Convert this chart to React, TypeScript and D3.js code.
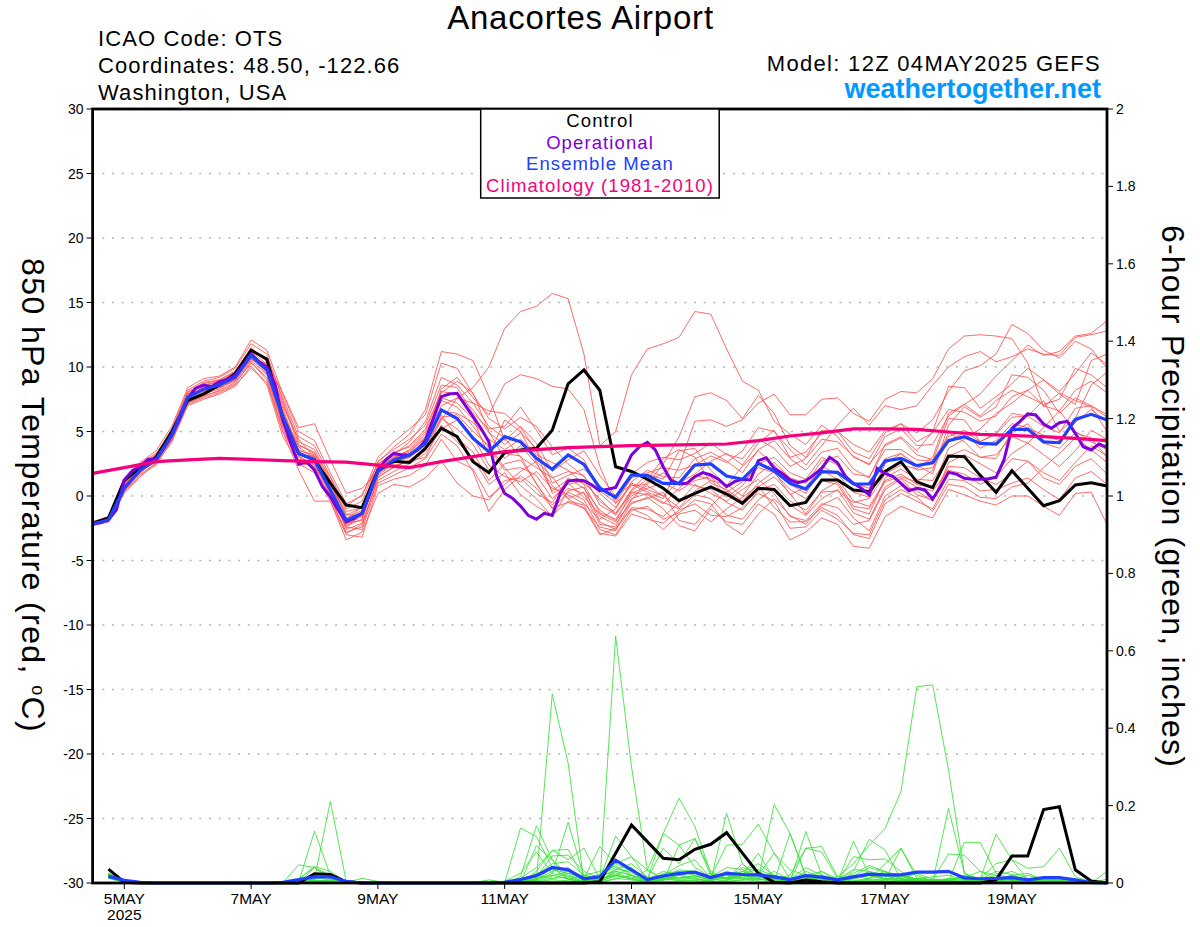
import { scaleLinear, line } from 'd3'

// 12Z 04MAY2025 GEFS plume for OTS. Steps are 6-hourly from the run time,
// the operational run is 3-hourly, climatology is read off every 12 hours.

const leftTicks = [30, 25, 20, 15, 10, 5, 0, -5, -10, -15, -20, -25, -30]
const rightTicks = [0, 0.2, 0.4, 0.6, 0.8, 1, 1.2, 1.4, 1.6, 1.8, 2]
const rightLabels = ['0', '0.2', '0.4', '0.6', '0.8', '1', '1.2', '1.4', '1.6', '1.8', '2']
const dayLabels = ['5MAY', '7MAY', '9MAY', '11MAY', '13MAY', '15MAY', '17MAY', '19MAY']
const daySteps = [2, 10, 18, 26, 34, 42, 50, 58]

const control = [-2.1,-1.7,1.2,2.2,3.0, 5.0,7.4,7.9,8.6,9.5, 11.3,10.6,6.0,3.3,2.8, 1.0,-0.7,-0.9,2.0,2.7, 2.6,3.7,5.25,4.6,2.66, 1.8,3.36,3.57,3.7,5.1, 8.7,9.77,8.2,2.27,1.9, 1.3,0.6,-0.36,0.2,0.7, 0.15,-0.57,0.6,0.5,-0.75, -0.5,1.24,1.24,0.47,0.34, 1.9,2.66,1.1,0.65,3.1, 3.05,1.6,0.28,1.96,0.6, -0.75,-0.36,0.85,1.03,0.78]
const mean = [-2.17,-1.86,0.6,2.0,2.8, 4.73,7.65,8.27,8.6,9.2, 10.9,9.77,6.15,3.3,2.8, 0.47,-1.9,-1.34,1.9,2.8, 3.18,4.08,6.67,6.0,4.47, 3.44,4.6,4.2,2.92,2.07, 3.18,2.45,0.6,-0.1,1.63, 1.58,0.98,0.98,2.4,2.48, 1.55,1.29,2.53,1.95,0.98, 0.54,1.89,1.83,0.93,0.93, 2.71,2.92,2.35,2.58,4.29, 4.6,4.08,4.03,5.17,5.17, 4.2,4.13,5.94,6.33,5.89]
const operational = [-2.1,-2.07,-1.86,-1.08,1.24,1.96,2.3,2.84,2.84,3.7,4.73,6.0,7.57,8.35,8.6,8.47,8.86,9.04,9.38,10.15,11.0,10.4,10.0,8.7,5.9,4.08,2.45,2.66,2.0,0.72,-0.05,-1.08,-2.0,-1.73,-1.34,0.2,2.0,2.8,3.3,3.18,3.18,3.57,4.34,6.0,
  7.7,7.9,7.96,7.05,6.15,5.25,4.2,1.5,0.2,-0.18,-0.78,-1.52,-1.8,-1.34,-1.5,0.2,1.16,1.24,1.19,0.85,0.41,0.52,0.67,1.89,3.18,3.82,4.16,3.57,2.27,1.19,0.93,0.98,1.5,1.81,1.63,1.29,0.72,1.11,1.29,1.24,2.74,2.97,
  2.14,1.76,1.24,1.03,1.19,1.63,2.14,3.0,2.58,1.5,0.98,0.6,0.08,2.14,1.76,1.5,0.98,0.41,0.6,0.47,-0.23,0.72,1.83,1.7,1.37,1.29,1.29,1.34,1.45,2.8,5.25,5.76,6.36,6.28,5.58,5.25,5.68,5.79,4.86,3.82,3.57,4.03,3.77]
const climatology = [1.75,2.2,2.66,2.8,2.92,2.84,2.74,2.66,2.63,2.4,2.2,2.66,3.05,3.44,3.6,3.75,3.82,3.9,3.95,3.98,4.03,4.29,4.65,4.9,5.2,5.2,5.17,4.96,4.78,4.7,4.6,4.47,4.29]

const t01 = [-2.2,-1.8,0.8,2.1,3.0, 4.9,7.8,8.4,8.7,9.5, 11.2,10.2,6.5,3.8,2.9, 1.0,-1.5,-0.9,2.0,3.0, 3.4,4.5,7.0,7.6,8.4, 10.0,13.0,14.3,14.7,15.7, 15.3,11.0,3.9,5.0,9.4, 11.4,11.8,12.3,14.3,14.1, 11.4,8.9,8.2,5.8,4.8, 4.0,5.5,4.6,3.0,2.5, 3.9,4.5,3.2,2.8,4.6, 5.1,4.2,4.9,6.4,6.2, 5.4,4.9,6.8,7.0,6.1]
const t02 = [-2.3,-1.9,0.6,1.9,2.7, 4.5,7.4,8.1,8.4,9.0, 10.8,9.6,5.9,3.1,2.4, 0.3,-2.2,-1.6,1.7,2.6, 3.0,4.2,8.3,9.2,7.6, 6.3,8.7,9.4,9.1,8.5, 8.3,6.7,2.3,-0.6,0.8, 0.9,2.5,4.6,7.7,8.0, 7.4,6.0,7.8,6.4,3.9, 3.0,5.1,5.0,3.4,2.9, 4.9,5.6,4.2,4.9,6.7, 6.5,5.8,6.2,7.7,8.2, 7.0,6.6,8.2,8.9,8.0]
const t03 = [-2.0,-1.6,1.0,2.4,3.2, 5.2,8.2,8.9,9.2,9.9, 11.8,11.0,7.4,4.2,3.6, 1.2,-1.0,-0.4,2.6,3.8, 4.8,6.7,11.2,11.0,10.5, 7.7,4.3,5.4,4.1,1.9, 2.8,3.5,1.6,0.0,0.9, 0.3,-0.2,2.3,5.8,5.9, 5.4,5.9,7.2,7.9,6.3, 6.3,7.5,7.6,6.4,5.8, 7.5,8.1,8.0,9.1,11.4, 12.4,12.5,12.4,12.2,10.3, 6.9,8.0,7.4,6.9,5.0]
const t04 = [-2.1,-1.7,1.2,2.6,3.5, 5.4,8.4,9.1,9.3,10.0, 12.1,11.3,7.9,5.0,4.3, 1.8,-0.6,0.0,3.0,4.2, 5.2,6.3,10.3,9.9,7.9, 6.0,5.2,6.1,5.4,3.8, 2.5,1.5,0.2,-0.9,1.1, 2.0,1.5,1.4,2.9,3.4, 2.7,1.8,3.6,4.3,2.9, 2.0,3.4,3.7,2.1,1.4, 4.0,4.6,3.5,5.0,8.5, 8.4,6.8,7.7,8.7,9.9, 9.0,8.1,9.5,11.1,10.2]
const t05 = [-2.3,-2.0,0.4,1.7,2.5, 4.2,7.1,7.6,8.0,8.6, 9.9,8.8,5.0,2.0,-0.4, -0.4,-3.4,-2.8,0.2,0.9, 0.7,1.4,2.7,1.0,0.0, -0.3,1.2,1.4,0.2,-0.5, 1.4,0.6,-1.1,-1.9,-0.6, -0.1,-1.0,-2.3,-2.7,-1.0, -2.0,-2.2,-0.6,-1.4,-3.4, -2.8,-1.7,-2.2,-3.9,-4.05, -1.6,-0.8,-1.3,-1.7,0.5, 0.1,-0.4,-0.7,0.0,0.0, -0.8,-1.5,0.2,0.3,-2.2]
const t06 = [-2.2,-1.8,0.7,2.2,3.0, 4.8,7.5,8.0,8.5,9.0, 10.6,10.3,8.0,5.3,5.6, 2.8,0.2,0.6,1.9,2.4, 2.6,3.5,5.9,7.6,7.2, 6.6,6.4,5.3,3.5,0.2, 0.9,1.2,-0.4,-1.3,0.2, 0.8,0.0,-0.9,0.4,1.2, 0.9,0.0,1.7,2.6,1.4, 1.0,2.7,3.1,1.7,1.5, 3.6,3.6,2.8,2.7,6.0, 5.9,4.2,4.8,6.1,6.2, 7.4,5.0,6.0,8.6,9.6]
const t07 = [-2.1,-1.9,0.9,2.3,2.9, 4.6,7.6,8.5,8.9,9.4, 10.9,10.1,6.8,3.5,3.2, 1.2,-2.3,-1.8,2.4,3.4, 3.8,5.0,8.0,8.9,8.0, 5.0,2.9,3.9,2.5,0.8, -0.2,0.3,-1.6,-2.2,-0.3, 1.1,1.8,1.0,1.7,2.7, 3.3,2.4,4.1,5.1,3.0, 3.4,4.9,5.0,4.0,3.4, 5.1,5.6,4.9,5.9,8.1, 9.7,10.1,11.0,13.3,12.6, 11.3,10.7,12.0,11.4,9.9]
const t08 = [-2.2,-1.7,0.5,1.8,2.8, 4.6,7.2,7.7,8.2,8.8, 10.3,9.2,5.3,2.4,2.5, 0.6,-2.6,-2.1,1.2,1.9, 2.5,3.3,5.2,5.9,4.6, 2.4,1.5,1.1,1.9,0.6, 0.1,-0.6,-1.8,-1.0,1.0, 0.5,0.0,1.1,0.8,0.5, -0.5,-1.1,0.4,0.9,-0.4, -1.1,0.3,0.4,-0.5,-0.2, 1.7,2.4,2.1,3.0,6.4, 7.1,7.9,9.3,10.5,11.7, 10.9,11.2,12.4,12.6,13.6]
const t09 = [-2.3,-1.8,0.9,2.0,2.6, 4.4,7.3,7.9,8.3,9.1, 10.7,9.5,5.6,3.0,2.0, -0.2,-2.8,-2.4,1.5,2.2, 2.8,3.7,6.1,6.3,5.0, 3.9,2.2,0.8,-0.2,-1.6, 0.4,0.7,-2.0,-2.6,-0.9, -1.0,-1.6,-0.5,0.9,0.2, -0.4,0.5,1.3,0.2,-1.6, -1.9,-0.6,-0.9,-2.2,-1.9, 0.5,1.3,0.1,-0.3,2.3, 2.2,1.4,0.9,1.7,2.7, 1.8,1.2,2.6,3.9,3.1]
const t10 = [-2.1,-1.6,1.3,2.5,3.3, 5.0,8.0,8.8,9.0,9.7, 11.4,10.6,7.0,4.4,3.0, 0.9,-1.2,-0.9,2.2,3.2, 4.2,5.8,9.2,8.6,7.2, 5.4,4.5,3.0,2.2,1.4, 1.9,1.6,-0.7,-1.4,0.5, 1.7,1.3,3.5,3.7,2.0, 0.8,2.3,3.5,2.4,0.9, 0.2,2.0,1.3,-0.4,-0.8, 1.2,1.7,0.9,0.6,3.7, 4.4,5.2,6.4,7.2,8.2, 9.0,7.9,7.1,10.5,11.0]
const t11 = [-2.2,-2.0,0.6,1.9,2.9, 5.0,7.7,8.2,8.5,9.3, 11.1,10.0,6.0,3.2,3.1, 0.1,-2.0,-1.4,2.3,3.0, 3.1,4.0,6.3,4.5,3.4, 1.2,2.5,2.8,1.0,-1.0, 0.3,-0.3,-2.6,-3.0,-1.1, -0.8,-1.8,-1.3,-0.3,-0.6, -2.2,-3.0,-1.4,-0.2,-1.5, -2.2,-0.7,-0.1,-1.7,-2.7, 0.0,0.8,0.4,-0.4,2.6, 3.2,2.5,1.8,3.3,4.1, 3.2,2.3,3.5,5.1,4.4]
const t12 = [-2.0,-1.9,0.3,1.6,2.4, 4.3,7.0,7.5,7.9,8.5, 10.1,8.6,4.6,2.5,1.8, -0.4,-3.0,-3.2,0.8,1.3, 1.6,2.4,4.4,2.7,2.1, -0.1,0.9,1.9,2.7,1.5, -0.2,-1.0,-2.4,-2.7,-0.5, -0.2,0.3,-1.9,-2.2,-0.8, 0.4,-0.7,0.7,1.5,0.2, -1.4,0.4,1.1,-0.8,-1.0, 1.1,1.5,1.1,2.0,4.9, 4.2,3.0,3.2,4.6,4.1, 5.3,6.6,5.0,4.2,3.6]
const t13 = [-2.2,-1.7,1.1,2.2,3.1, 5.1,7.9,8.7,9.0,9.6, 11.5,10.4,7.2,4.0,3.3, 1.5,-1.7,-1.1,2.7,3.6, 4.4,5.5,8.6,8.4,6.4, 5.2,5.4,6.9,5.1,3.2, 3.7,2.8,0.4,-0.5,1.4, 1.8,2.2,2.0,2.4,3.1, 2.6,3.5,5.3,5.0,3.6, 2.4,3.9,5.5,6.8,5.5, 7.0,6.7,7.0,8.6,10.0, 10.8,11.2,10.4,10.8,11.4, 11.0,10.9,12.3,12.5,12.8]
const t14 = [-2.3,-1.9,0.2,1.5,2.6, 4.4,7.2,7.8,8.1,8.7, 10.4,9.0,5.0,2.8,2.6, 0.0,-2.4,-2.6,1.0,1.6, 2.2,2.9,4.8,3.9,1.9, -1.2,0.5,1.6,0.6,-0.9, -0.5,-0.9,-3.0,-2.5,-1.0, -1.5,-2.6,-1.4,-1.1,-2.0, -1.0,-0.1,0.8,-0.9,-2.0, -2.0,-0.9,-1.5,-3.0,-3.3, -0.6,0.2,-0.4,-1.0,1.3, 1.2,0.4,0.5,1.0,1.4, 0.5,-0.3,1.4,1.9,0.9]
const t15 = [-2.1,-1.8,0.8,2.1,2.9, 4.7,7.4,8.0,8.6,9.2, 10.6,9.7,6.3,3.6,3.0, 0.8,-1.4,-1.6,1.6,2.5, 3.3,4.3,6.6,6.4,5.7, 4.4,3.6,4.4,3.2,2.6, 2.0,0.9,-1.3,-1.8,0.0, 0.6,1.0,0.4,1.2,1.5, 0.3,1.1,2.2,1.8,0.5, -0.2,1.2,0.9,-1.0,-1.4, 1.4,2.1,1.3,1.2,3.1, 3.6,3.0,2.9,5.0,5.6, 4.1,3.7,4.9,4.5,3.0]
const t16 = [-2.2,-1.9,0.7,1.8,2.8, 4.9,7.6,8.4,8.8,9.4, 11.0,9.9,6.6,3.4,2.7, 0.4,-2.1,-1.9,1.8,2.9, 3.6,4.8,7.6,7.2,6.0, 3.1,5.9,5.0,2.6,0.4, 1.3,1.0,-0.2,-1.5,0.4, 1.3,2.9,3.6,3.0,1.0, 0.5,-0.4,1.0,1.9,0.1, 0.7,2.3,1.7,0.3,-0.1, 2.5,3.3,2.4,1.7,5.5, 6.9,6.1,6.9,9.4,9.2, 8.2,6.4,7.6,7.0,6.3]
const t17 = [-2.3,-1.8,1.0,2.2,3.0, 4.8,7.9,8.3,8.6,9.3, 10.8,9.9,6.2,3.1,2.2, 0.7,-2.5,-1.3,2.1,2.7, 3.0,3.9,6.0,5.2,4.0, 2.0,3.3,3.1,0.9,-0.7, 0.6,0.2,-2.2,-2.4,-0.2, 0.2,-0.5,-1.0,0.1,-0.2, -1.5,-1.8,-0.3,0.6,-0.7, -1.5,-0.2,0.5,-1.3,-1.8, 0.7,1.4,0.7,0.4,2.0, 1.7,0.9,1.5,2.9,2.7, 1.4,0.9,2.3,2.9,1.7]
const t18 = [-2.0,-1.7,1.1,2.4,3.1, 5.0,8.1,8.6,8.9,9.5, 11.3,10.7,7.6,4.6,3.9, 1.5,-0.8,0.1,2.5,3.3, 3.9,5.2,8.1,7.9,6.7, 4.9,4.0,4.9,3.7,1.0, 1.6,2.1,0.8,-0.3,1.7, 2.6,3.0,2.8,3.3,4.1, 3.2,2.9,4.4,3.7,2.3, 2.9,4.4,4.2,3.1,2.4, 4.6,5.2,3.9,4.0,6.2, 7.1,6.2,7.4,8.2,7.7, 7.1,7.5,9.9,9.4,8.4]
const t19 = [-2.2,-2.0,0.5,2.0,2.7, 4.5,7.3,8.1,8.4,8.9, 10.5,9.4,5.5,2.7,2.3, -0.1,-2.9,-2.2,1.4,2.3, 2.7,3.0,5.5,4.2,2.9, 0.9,1.8,0.1,-0.8,-1.5, -0.4,-0.7,-2.9,-3.1,-1.4, -1.8,-2.1,-1.1,-0.6,-1.5, -1.6,-0.9,0.2,-0.4,-2.5, -2.4,-1.1,-1.8,-2.9,-3.0, -0.3,0.5,-0.1,-1.2,0.9, 0.7,-0.1,-0.2,0.7,1.0, 2.2,3.3,4.5,3.6,2.6]
const t20 = [-2.1,-1.8,0.6,2.2,3.0, 4.7,7.7,8.2,8.7,9.2, 10.7,9.8,6.4,3.9,3.4, 0.6,-1.9,-0.8,2.0,3.1, 3.5,4.6,7.4,6.9,5.4, 3.7,2.0,2.2,1.6,-0.2, 1.0,-0.1,-1.4,-2.0,0.3, 0.1,-0.6,0.6,1.6,1.3, -0.1,0.8,2.5,3.0,1.8, 1.3,3.0,2.4,1.0,0.6, 2.9,3.3,2.0,2.2,4.3, 4.9,3.7,4.3,5.6,5.3, 4.7,4.3,5.7,6.7,5.8]
const tempMembers = [t01,t02,t03,t04,t05,t06,t07,t08,t09,t10,t11,t12,t13,t14,t15,t16,t17,t18,t19,t20]

// precipitation starts one step after the run time
const controlPrecip = [.036,.002,0,0,0,0,0,0, 0,0,0,0,0,.024,.022,.003, 0,0,0,0,0,0,0,0, 0,0,0,0,0,0,0,.003, .077,.15,.107,.064,.06,.087,.10,.13, .077,.025,.002,0,.008,.003,0,0, 0,0,0,0,0,0,0,0, .008,.07,.07,.19,.197,.034,.005,0]
const meanPrecip = [.017,.007,.002,0,0,0,0,0, 0,0,0,.002,.009,.016,.016,.004, 0,0,0,0,0,0,0,0, 0,.002,.009,.019,.04,.034,.011,.016, .059,.034,.009,.018,.025,.028,.014,.025, .022,.021,.016,.009,.019,.015,.008,.016, .023,.021,.021,.028,.028,.03,.013,.011, .012,.014,.008,.014,.014,.008,.001,0]

const p01 = [.02,.002,0,0,0,0,0,0, 0,0,0,0,.01,.04,.02,.002, 0,0,0,0,0,0,0,0, 0,.004,.01,.008,.04,.01,0,0, .638,.30,.034,.01,.02,.03,.01,.02, .03,.05,.02,.004,.01,.03,.01,.02, .01,.008,.02,.01,.005,.004,.02,.01, .005,.01,.02,.008,.01,.004,0,.03]
const p02 = [.015,.001,0,0,0,0,0,0, 0,0,0,0,0,.01,.211,.004, 0,0,0,0,0,0,0,0, 0,0,.004,.008,.488,.31,.003,.005, .03,.02,.005,.015,.01,.02,.004,.025, .01,.02,.077,.01,.02,.01,.004,.02, .015,.03,.01,.005,.002,.01,.01,.004, .01,.008,.002,.01,.005,.004,0,0]
const p03 = [.012,.002,0,0,0,0,0,0, 0,0,0,0,0,.04,.012,.002, .004,0,0,0,0,0,0,0, 0,.002,.006,.02,.01,.025,.016,.01, .05,.068,.034,.01,.02,.015,.025,.01, .02,.012,.03,.008,.02,.01,.016,.05, .098,.141,.236,.507,.512,.292,.025,.01, .004,.01,.005,.002,.006,.002,0,0]
const p04 = [.025,.003,0,0,0,0,0,0, 0,0,0,0,.002,.134,.02,.001, 0,0,0,0,0,0,0,0, 0,.001,.142,.12,.04,.01,.005,.002, .01,.02,.01,.128,.098,.115,.02,.01, .05,.01,.004,.128,.02,.01,.008,.016, .02,.01,.02,.008,.002,.193,.025,.004, .012,.01,.004,.002,.003,.001,0,.003]
const p05 = [.018,.001,0,0,0,0,0,0, 0,0,0,0,.01,.043,.03,.002, 0,0,0,0,0,0,0,0, 0,0,.016,.148,.06,.02,.008,.004, .02,.01,.034,.128,.219,.146,.025,.012, .03,.02,.01,.02,.09,.094,.016,.012, .03,.02,.005,.012,.008,.075,.072,.03, .01,.02,.025,.008,.004,.002,0,0]
const p06 = [.022,.002,0,0,0,0,0,0, 0,0,0,0,.047,.04,.01,.001, .012,.004,0,0,0,0,0,0, 0,0,.002,.096,.06,.01,.02,.01, .121,.068,.01,.03,.02,.01,.006,.18, .05,.015,.008,.004,.133,.02,.008,.03, .113,.085,.01,.006,.004,.003,.02,.01, .126,.06,.008,.012,.01,.004,.001,0]
const p07 = [.02,.002,0,0,0,0,0,0, 0,0,0,.002,.01,.01,.014,.001, 0,0,0,0,0,0,0,0, .008,.002,.012,.04,.084,.087,.012,.094, .05,.03,.01,.09,.05,.115,.03,.01, .02,.01,.203,.128,.016,.005,.002,.108, .02,.008,.09,.012,.008,.004,.105,.105, .025,.01,.004,.002,.006,.003,0,0]
const p08 = [.014,.001,0,0,0,0,0,0, 0,0,0,0,0,.005,.01,0, 0,0,0,0,0,0,0,0, 0,.005,.025,.08,.025,.157,.016,.004, .035,.05,.015,.004,.098,.04,.015,.098, .10,.152,.077,.034,.02,.03,.004,.068, .06,.062,.03,.006,.01,.006,.003,.012, .05,.06,.038,.042,.09,.016,.002,0]
const p09 = [.024,.002,0,0,0,0,0,0, 0,0,0,0,0,.012,.02,.001, 0,0,0,0,0,0,0,0, 0,0,0,.03,.085,.06,.09,.01, .02,.04,.006,.02,.045,.06,.012,.03, .02,.077,.01,.005,.09,.08,.012,.004, .01,.05,.09,.02,.004,.01,.014,.03, .02,.006,.003,.01,.015,.002,0,0]
const p10 = [.016,.001,0,0,0,0,0,0, 0,0,0,0,.001,.006,.006,0, 0,0,0,0,0,0,0,0, 0,0,.002,.02,.05,.055,.02,.03, .044,.02,.004,.025,.03,.02,.008,.012, .04,.03,.012,.006,.03,.012,.006,.01, .02,.012,.01,.025,.01,.006,.004,.012, .008,.02,.006,.004,.002,.004,0,0]
const p11 = [.019,.002,0,0,0,0,0,0, 0,0,0,0,0,.008,.004,0, 0,0,0,0,0,0,0,0, 0,0,.001,.01,.03,.04,.006,.015, .035,.03,.012,.01,.02,.03,.015,.04, .035,.015,.02,.012,.006,.018,.01,.035, .03,.01,.006,.012,.016,.02,.008,.006, .02,.03,.012,.006,.004,.002,0,0]
const p12 = [.021,.002,0,0,0,0,0,0, 0,0,0,0,0,.003,.008,0, 0,0,0,0,0,0,0,0, 0,0,.003,.012,.02,.01,.004,.008, .026,.012,.002,.008,.015,.01,.004,.006, .02,.025,.01,.004,.012,.006,.002,.006, .012,.02,.014,.008,.004,.002,.006,.004, .006,.012,.008,.01,.006,.001,0,0]
const p13 = [.017,.001,0,0,0,0,0,0, 0,0,0,0,.001,.004,.003,0, 0,0,0,0,0,0,0,0, 0,0,.002,.006,.012,.015,.002,.005, .018,.015,.004,.012,.006,.014,.002,.008, .014,.01,.006,.002,.008,.004,.001,.004, .008,.006,.012,.002,.002,.004,.003,.002, .004,.006,.01,.004,.002,.001,0,0]
const p14 = [.023,.002,0,0,0,0,0,0, 0,0,0,0,0,.002,.004,0, 0,0,0,0,0,0,0,0, 0,0,.001,.025,.035,.025,.01,.018, .03,.02,.006,.02,.026,.024,.01,.02, .012,.008,.014,.006,.015,.009,.004,.025, .045,.03,.018,.006,.003,.008,.012,.006, .012,.015,.004,.002,.003,.001,0,0]
const p15 = [.013,.001,0,0,0,0,0,0, 0,0,0,0,0,.001,.002,0, 0,0,0,0,0,0,0,0, 0,0,.001,.004,.008,.006,.001,.002, .012,.008,.002,.005,.004,.007,.001,.004, .009,.005,.003,.001,.004,.002,0,.002, .004,.003,.005,.001,.001,.002,.001,.001, .002,.004,.003,.002,.001,0,0,0]
const p16 = [.02,.002,0,0,0,0,0,0, 0,0,0,0,0,.006,.005,0, 0,0,0,0,0,0,0,0, 0,0,0,.016,.07,.072,.03,.012, .06,.035,.008,.014,.034,.03,.006,.015, .025,.035,.018,.008,.04,.02,.007,.018, .04,.028,.01,.004,.005,.012,.01,.008, .03,.022,.006,.004,.002,.001,0,0]
const p17 = [.026,.003,0,0,0,0,0,0, 0,0,0,0,0,.003,.006,0, 0,0,0,0,0,0,0,0, 0,0,.002,.008,.018,.03,.014,.022, .04,.026,.01,.018,.012,.018,.008,.014, .016,.022,.008,.003,.01,.014,.003,.012, .025,.016,.022,.01,.006,.006,.005,.005, .009,.012,.005,.012,.004,.002,0,.01]
const p18 = [.018,.002,0,0,0,0,0,0, 0,0,0,0,0,.002,.003,0, 0,0,0,0,0,0,0,0, 0,0,.001,.01,.024,.018,.005,.01, .022,.01,.003,.01,.008,.005,.002,.003, .007,.012,.004,.002,.005,.003,.001,.003, .006,.004,.008,.003,.002,.003,.002,.002, .003,.005,.004,.003,.002,.001,0,0]
const precipMembers = [p01,p02,p03,p04,p05,p06,p07,p08,p09,p10,p11,p12,p13,p14,p15,p16,p17,p18]

const legend = [
  { text: 'Control', color: '#000000' },
  { text: 'Operational', color: '#7d00dc' },
  { text: 'Ensemble Mean', color: '#2040ff' },
  { text: 'Climatology (1981-2010)', color: '#f5007d' },
]

const SANS = '"Liberation Sans", Arial, sans-serif'

export default function App() {
  const x = scaleLinear().domain([0, 64]).range([92.6, 1107])
  const yT = scaleLinear().domain([-30, 30]).range([883, 109])
  const yP = scaleLinear().domain([0, 2]).range([883, 109])

  const tempLine = line<number>().x((_, i) => x(i)).y((d) => yT(d))
  const opLine = line<number>().x((_, i) => x(i / 2)).y((d) => yT(d))
  const climLine = line<number>().x((_, i) => x(i * 2)).y((d) => yT(d))
  const precipLine = line<number>().x((_, i) => x(i + 1)).y((d) => yP(d))

  return (
    <svg
      width={1200}
      height={927}
      viewBox="0 0 1200 927"
      style={{ position: 'absolute', left: 0, top: 0, display: 'block', background: '#fff' }}
      fontFamily={SANS}
    >
      {leftTicks.filter((t) => t !== 30 && t !== -30).map((t) => (
        <line key={t} x1={x(0)} x2={x(64)} y1={yT(t)} y2={yT(t)} stroke="#b4b4b4" strokeWidth={1.4} strokeDasharray="2 7.7" />
      ))}

      {tempMembers.map((d, i) => (
        <path key={i} d={tempLine(d) ?? ''} fill="none" stroke="#ff5252" strokeWidth={0.85} />
      ))}
      {precipMembers.map((d, i) => (
        <path key={i} d={precipLine(d) ?? ''} fill="none" stroke="#38e038" strokeWidth={0.85} />
      ))}

      <path d={tempLine(control) ?? ''} fill="none" stroke="#000" strokeWidth={3} />
      <path d={opLine(operational) ?? ''} fill="none" stroke="#7d00dc" strokeWidth={3} />
      <path d={tempLine(mean) ?? ''} fill="none" stroke="#2040ff" strokeWidth={3.2} />
      <path d={climLine(climatology) ?? ''} fill="none" stroke="#f5007d" strokeWidth={3.2} />
      <path d={precipLine(controlPrecip) ?? ''} fill="none" stroke="#000" strokeWidth={3} />
      <path d={precipLine(meanPrecip) ?? ''} fill="none" stroke="#2040ff" strokeWidth={3.2} />

      {/* frame */}
      <rect x={x(0)} y={yT(30)} width={x(64) - x(0)} height={yT(-30) - yT(30)} fill="none" stroke="#000" strokeWidth={2.8} />

      {leftTicks.map((t) => (
        <g key={t}>
          <line x1={x(0) - 6} x2={x(0)} y1={yT(t)} y2={yT(t)} stroke="#000" strokeWidth={1} />
          <text x={x(0) - 9} y={yT(t)} dy="0.36em" textAnchor="end" fontSize={14}>{t}</text>
        </g>
      ))}
      {rightTicks.map((t, i) => (
        <g key={t}>
          <line x1={x(64)} x2={x(64) + 6} y1={yP(t)} y2={yP(t)} stroke="#000" strokeWidth={1} />
          <text x={x(64) + 9} y={yP(t)} dy="0.36em" fontSize={14}>{rightLabels[i]}</text>
        </g>
      ))}
      {daySteps.map((s, i) => (
        <g key={s}>
          <line x1={x(s)} x2={x(s)} y1={883} y2={889} stroke="#000" strokeWidth={1} />
          <text x={x(s)} y={904} textAnchor="middle" fontSize={15.5}>{dayLabels[i]}</text>
        </g>
      ))}
      <text x={x(2)} y={920} textAnchor="middle" fontSize={15.5}>2025</text>

      <text x={580.5} y={29} textAnchor="middle" fontSize={33} letterSpacing={0.8}>Anacortes Airport</text>
      <text x={98} y={46} fontSize={22} letterSpacing={1.1}>ICAO Code: OTS</text>
      <text x={98} y={73} fontSize={22} letterSpacing={1.1}>Coordinates: 48.50, -122.66</text>
      <text x={98} y={100} fontSize={22} letterSpacing={1.1}>Washington, USA</text>
      <text x={1101} y={71} textAnchor="end" fontSize={22} letterSpacing={1.3}>Model: 12Z 04MAY2025 GEFS</text>
      <text x={1101} y={98} textAnchor="end" fontSize={27} fontWeight="bold" fill="#0099ff">weathertogether.net</text>

      <rect x={480.7} y={109} width={238.5} height={89} fill="#fff" stroke="#000" strokeWidth={1.5} />
      {legend.map((l, i) => (
        <text key={l.text} x={600} y={127 + i * 21.6} textAnchor="middle" fontSize={18.5} letterSpacing={1.1} fill={l.color}>
          {l.text}
        </text>
      ))}

      <text transform="translate(22,258) rotate(90)" fontSize={32} letterSpacing={1.4}>
        850 hPa Temperature (red, <tspan dy={-10} fontSize={18}>o</tspan><tspan dy={10}>C)</tspan>
      </text>
      <text transform="translate(1162,225) rotate(90)" fontSize={32} letterSpacing={1.2}>6-hour Precipitation (green, inches)</text>
    </svg>
  )
}
